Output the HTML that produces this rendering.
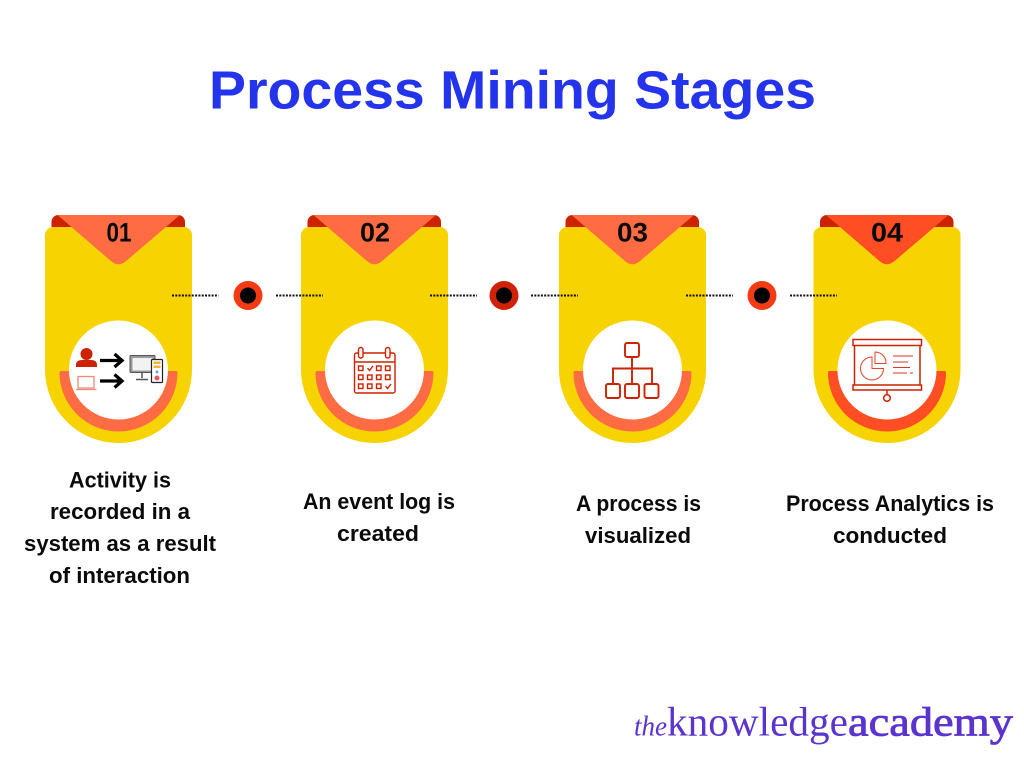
<!DOCTYPE html>
<html>
<head>
<meta charset="utf-8">
<style>
html,body{margin:0;padding:0;background:#fff;width:1024px;height:768px;overflow:hidden}
svg{display:block}
.t{font-family:"Liberation Sans",sans-serif;font-weight:700;fill:#0a0a0a;font-size:22.500px}
.n{font-family:"Liberation Sans",sans-serif;font-weight:700;fill:#0a0a0a;font-size:27px}
</style>
</head>
<body>
<svg width="1024" height="768" viewBox="0 0 1024 768" xmlns="http://www.w3.org/2000/svg">
<rect width="1024" height="768" fill="#fff"/>
<text x="209" y="108.500" textLength="607" lengthAdjust="spacingAndGlyphs" font-family="Liberation Sans, sans-serif" font-weight="700" font-size="54" fill="#2433EC">Process Mining Stages</text>

<defs>
<g id="card">
<path d="M51.500 232V222a7 7 0 0 1 7-7H178a7 7 0 0 1 7 7V232Z" fill="#CC2200"/>
<path d="M45 235a8 8 0 0 1 8-8H184a8 8 0 0 1 8 8V369.500a73.500 73.500 0 0 1-147 0Z" fill="#F7D301"/>
<path d="M59.500 372.500a1.500 1.500 0 0 1 1.500-1.500H176a1.500 1.500 0 0 1 1.500 1.500a59 59 0 0 1-118 0Z" fill="currentColor"/>
<circle cx="118.500" cy="370" r="49.500" fill="#fff"/>
<path d="M57.500 215H180L125.500 261.500Q118.500 267 111.500 261.500Z" fill="currentColor"/>
</g>
</defs>

<use href="#card" style="color:#FF6B43"/>
<use href="#card" x="256" style="color:#FF6B43"/>
<use href="#card" x="514" style="color:#FF6B43"/>
<use href="#card" x="768.500" style="color:#FF4D24"/>

<text class="n" x="106.500" y="241.500" textLength="25" lengthAdjust="spacingAndGlyphs">01</text>
<text class="n" x="360" y="241.500" textLength="30" lengthAdjust="spacingAndGlyphs">02</text>
<text class="n" x="617" y="241.500" textLength="31" lengthAdjust="spacingAndGlyphs">03</text>
<text class="n" x="871" y="241.500" textLength="32" lengthAdjust="spacingAndGlyphs">04</text>

<g stroke="#111" stroke-width="2" stroke-dasharray="2 1.300" fill="none">
<path d="M172 295.500H218.500"/>
<path d="M276 295.500H323"/>
<path d="M430 295.500H477"/>
<path d="M531 295.500H578"/>
<path d="M686 295.500H733"/>
<path d="M790 295.500H837"/>
</g>
<circle cx="248" cy="295.500" r="14.500" fill="#F53B13"/><circle cx="248" cy="295.500" r="8" fill="#000"/>
<circle cx="504" cy="295.500" r="14.500" fill="#D02208"/><circle cx="504" cy="295.500" r="8" fill="#000"/>
<circle cx="762" cy="295.500" r="14.500" fill="#F53B13"/><circle cx="762" cy="295.500" r="8" fill="#000"/>

<!-- icon 1 -->
<circle cx="86.500" cy="354" r="6" fill="#CC2200"/>
<path d="M76 367V365Q76 360 82 360H91Q97 360 97 365V367Z" fill="#CC2200"/>
<g fill="none" stroke="#000" stroke-width="3.300">
<path d="M100 360.500H121M114.500 354L122 360.500L114.500 367"/>
<path d="M100 381H121M114.500 374.500L122 381L114.500 387.500"/>
</g>
<g fill="none" stroke="#EE8A78" stroke-width="1.300">
<rect x="78" y="376.500" width="16" height="11.500"/>
<path d="M76 389.500H96.500"/>
</g>
<rect x="130" y="355.500" width="25" height="17" rx="1" fill="#9a9a9a" stroke="#555" stroke-width="1"/>
<rect x="132.500" y="358" width="20" height="12.500" fill="#f2f2f2"/>
<path d="M142 373V378M136 379.500H148" stroke="#555" stroke-width="1.500" fill="none"/>
<rect x="151.500" y="359.500" width="11" height="23" rx="1" fill="#fff" stroke="#222" stroke-width="1.200"/>
<rect x="153.500" y="361.500" width="7" height="2.500" fill="#F2B53A"/>
<rect x="153.500" y="365.500" width="7" height="2.500" fill="#F2B53A"/>
<circle cx="157" cy="372" r="1.500" fill="#6AA7D8"/>
<circle cx="157" cy="378" r="2.500" fill="#EE5A5A"/>

<!-- icon 2 -->
<g fill="none" stroke="#CC2200" stroke-width="1.400">
<rect x="354.500" y="353" width="40.500" height="40" rx="2"/>
<path d="M354.500 362H395"/>
<rect x="358.500" y="347.500" width="4.500" height="10.500" rx="2.200" fill="#fff"/>
<rect x="385.500" y="347.500" width="4.500" height="10.500" rx="2.200" fill="#fff"/>
<rect x="358.500" y="366" width="4.500" height="4.500"/>
<path d="M367.500 368L369.500 370.500L373 366"/>
<rect x="376.500" y="366" width="4.500" height="4.500"/>
<rect x="385.500" y="366" width="4.500" height="4.500"/>
<rect x="358.500" y="375" width="4.500" height="4.500"/>
<rect x="367.500" y="375" width="4.500" height="4.500"/>
<rect x="376.500" y="375" width="4.500" height="4.500"/>
<rect x="385.500" y="375" width="4.500" height="4.500"/>
<rect x="358.500" y="384" width="4.500" height="4.500"/>
<rect x="367.500" y="384" width="4.500" height="4.500"/>
<rect x="376.500" y="384" width="4.500" height="4.500"/>
<path d="M385.500 386L387.500 388.500L391 384"/>
</g>

<!-- icon 3 -->
<g fill="none" stroke="#CC2200" stroke-width="1.900">
<rect x="625" y="343" width="14" height="14" rx="2"/>
<path d="M632 357V384M613 384V368.500H652V384"/>
<rect x="606" y="384" width="14" height="14" rx="2"/>
<rect x="625" y="384" width="14" height="14" rx="2"/>
<rect x="644.500" y="384" width="14" height="14" rx="2"/>
</g>

<!-- icon 4 -->
<g fill="none" stroke="#CC2200" stroke-width="1.500">
<rect x="853" y="339.500" width="68.500" height="6"/>
<rect x="853" y="385" width="68.500" height="5"/>
<path d="M854.500 345.500V385M920 345.500V385"/>
<path d="M887 390V394.500"/>
<circle cx="887" cy="398" r="3.300"/>
</g>
<g fill="none" stroke="#E0442A" stroke-width="1">
<path d="M872 357a11.500 11.500 0 1 0 11.500 11.500H872Z"/>
<path d="M875 352a11 11 0 0 1 11 11.500H875Z"/>
</g>
<path d="M893 356H913M893 362H908M893 367.500H910M893 373H907M910 373H913" stroke="#D8391F" stroke-width="1.100" fill="none"/>

<!-- labels -->
<text class="t" x="69" y="487.500" textLength="102" lengthAdjust="spacingAndGlyphs">Activity is</text>
<text class="t" x="50" y="519" textLength="140" lengthAdjust="spacingAndGlyphs">recorded in a</text>
<text class="t" x="24" y="551" textLength="192" lengthAdjust="spacingAndGlyphs">system as a result</text>
<text class="t" x="49" y="583" textLength="141" lengthAdjust="spacingAndGlyphs">of interaction</text>
<text class="t" x="303" y="509" textLength="152" lengthAdjust="spacingAndGlyphs">An event log is</text>
<text class="t" x="337" y="541" textLength="82" lengthAdjust="spacingAndGlyphs">created</text>
<text class="t" x="576" y="511" textLength="125" lengthAdjust="spacingAndGlyphs">A process is</text>
<text class="t" x="585" y="543" textLength="106" lengthAdjust="spacingAndGlyphs">visualized</text>
<text class="t" x="786" y="511" textLength="208" lengthAdjust="spacingAndGlyphs">Process Analytics is</text>
<text class="t" x="833" y="543" textLength="114" lengthAdjust="spacingAndGlyphs">conducted</text>

<!-- logo -->
<g font-family="Liberation Serif, serif" fill="#5B34D0">
<text x="634" y="735.500" font-size="29" font-style="italic" textLength="33" lengthAdjust="spacingAndGlyphs">the</text>
<text x="667" y="735.500" font-size="41" textLength="181" lengthAdjust="spacingAndGlyphs">knowledge</text>
<text x="848" y="735.500" font-size="41" stroke="#5B34D0" stroke-width=".8" textLength="165" lengthAdjust="spacingAndGlyphs">academy</text>
</g>
</svg>
</body>
</html>
